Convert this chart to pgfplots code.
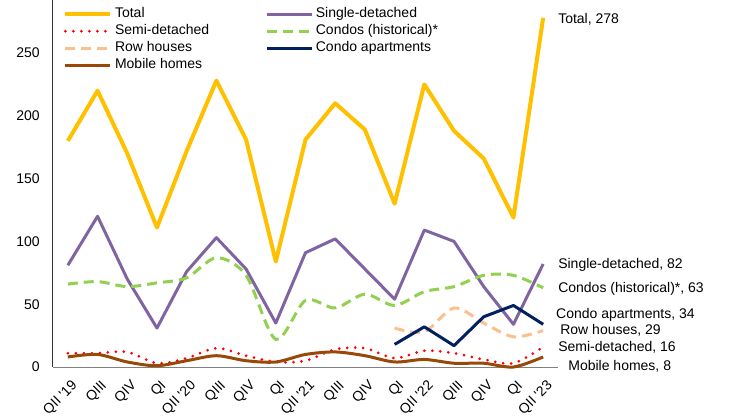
\documentclass[border=0pt]{standalone}
\usepackage{pgfplots}
\pgfplotsset{compat=1.18}
\usepackage{pgfplotstable}
\usepackage{fontspec}
\setmainfont{Liberation Sans}

\definecolor{cTotal}{HTML}{FFC000}
\definecolor{cSingle}{HTML}{8064A2}
\definecolor{cSemi}{HTML}{FF0000}
\definecolor{cCondo}{HTML}{92D050}
\definecolor{cRow}{HTML}{FAC090}
\definecolor{cApt}{HTML}{002060}
\definecolor{cMobile}{HTML}{984807}

\tikzset{lbl/.style={anchor=west, inner sep=0pt}}

% Quarterly housing starts by type
\pgfplotstableread{
x  total single semi condo row apt mobile
0  180   81     11   66    nan nan 8
1  220   120    11   68    nan nan 10
2  170   70     12   64    nan nan 4
3  111   31     3    67    nan nan 1
4  172   76     7    71    nan nan 5
5  228   103    15   87    nan nan 9
6  181   78     9    73    nan nan 5
7  84    35     4    22    nan nan 4
8  181   91     5    53    nan nan 10
9  210   102    14   47    nan nan 12
10 189   78     15   58    nan nan 9
11 130   54     7    49    31  18  4
12 225   109    13   60    28  32  6
13 188   100    11   64    47  17  3
14 166   64     6    73    35  40  3
15 119   34     3    73    24  49  0
16 278   82     16   63    29  34  8
}\starts

\begin{document}
\begin{tikzpicture}[font=\fontsize{10.5}{12.6}\selectfont]
\begin{axis}[
  at={(0,0)}, anchor=south west,
  scale only axis, width=378.75pt, height=275.25pt,
  xmin=-0.5, xmax=16.5, ymin=0, ymax=292.2,
  axis x line*=bottom, axis y line*=left,
  axis line style={-},
  x axis line style={draw=black!50, line width=0.75pt},
  y axis line style={draw=black!80, line width=0.75pt},
  tick style={draw=none},
  xtick={0,...,16},
  xticklabels={QII \textquotesingle19, QIII, QIV, QI, QII \textquotesingle20, QIII, QIV, QI,
    QII \textquotesingle21, QIII, QIV, QI, QII \textquotesingle22, QIII, QIV, QI, QII \textquotesingle23},
  xticklabel style={anchor=east, inner sep=0pt, xshift=5.5pt, yshift=-12.5pt, rotate=45},
  ytick={0,50,...,250},
  yticklabel style={xshift=-6.5pt},
  /pgf/number format/assume math mode=true,
  clip=false,
  legend columns=2,
  legend cell align=left,
  legend style={at={(0.02,0.985)}, anchor=north west, draw=none, fill=none,
    inner sep=0pt, row sep=0pt,
    nodes={inner xsep=2pt, inner ysep=1.45pt, text height=7.6pt, text depth=2.2pt},
    /tikz/every even column/.append style={column sep=40pt}},
  legend image code/.code={\draw[#1] (0pt,0pt) -- (33.75pt,0pt);},
]
\addplot[cTotal, line width=3pt, line join=round] table[x=x, y=total] {\starts};
\addlegendentry{Total}
\addplot[cSingle, line width=2.25pt, line join=round] table[x=x, y=single] {\starts};
\addlegendentry{Single-detached}
\addplot[cSemi, line width=2.25pt, smooth, tension=0.5, line cap=round, dash pattern=on 0pt off 6pt] table[x=x, y=semi] {\starts};
\addlegendentry{Semi-detached}
\addplot[cCondo, line width=2.25pt, smooth, tension=0.5, dash pattern=on 7.5pt off 4.5pt] table[x=x, y=condo] {\starts};
\addlegendentry{Condos (historical)*}
\addplot[cRow, line width=2.25pt, smooth, tension=0.5, dash pattern=on 7.5pt off 4.5pt] table[x=x, y=row] {\starts};
\addlegendentry{Row houses}
\addplot[cApt, line width=2.25pt, line join=round] table[x=x, y=apt] {\starts};
\addlegendentry{Condo apartments}
\addplot[cMobile, line width=2.25pt, smooth, tension=0.5] table[x=x, y=mobile] {\starts};
\addlegendentry{Mobile homes}

\node[lbl] at (axis cs:16.5,277) {Total, 278};
\node[lbl] at (axis cs:16.5,81.2) {Single-detached, 82};
\node[lbl] at (axis cs:16.5,61.9) {Condos (historical)*, 63};
\node[lbl] at (axis cs:16.43,41.4) {Condo apartments, 34};
\node[lbl] at (axis cs:16.57,29.5) {Row houses, 29};
\node[lbl] at (axis cs:16.5,15.7) {Semi-detached, 16};
\node[lbl] at (axis cs:16.84,0.2) {Mobile homes, 8};
\end{axis}
\pgfresetboundingbox
\useasboundingbox (-39.75pt,-36pt) rectangle (507.75pt,275.25pt);
\end{tikzpicture}
\end{document}
